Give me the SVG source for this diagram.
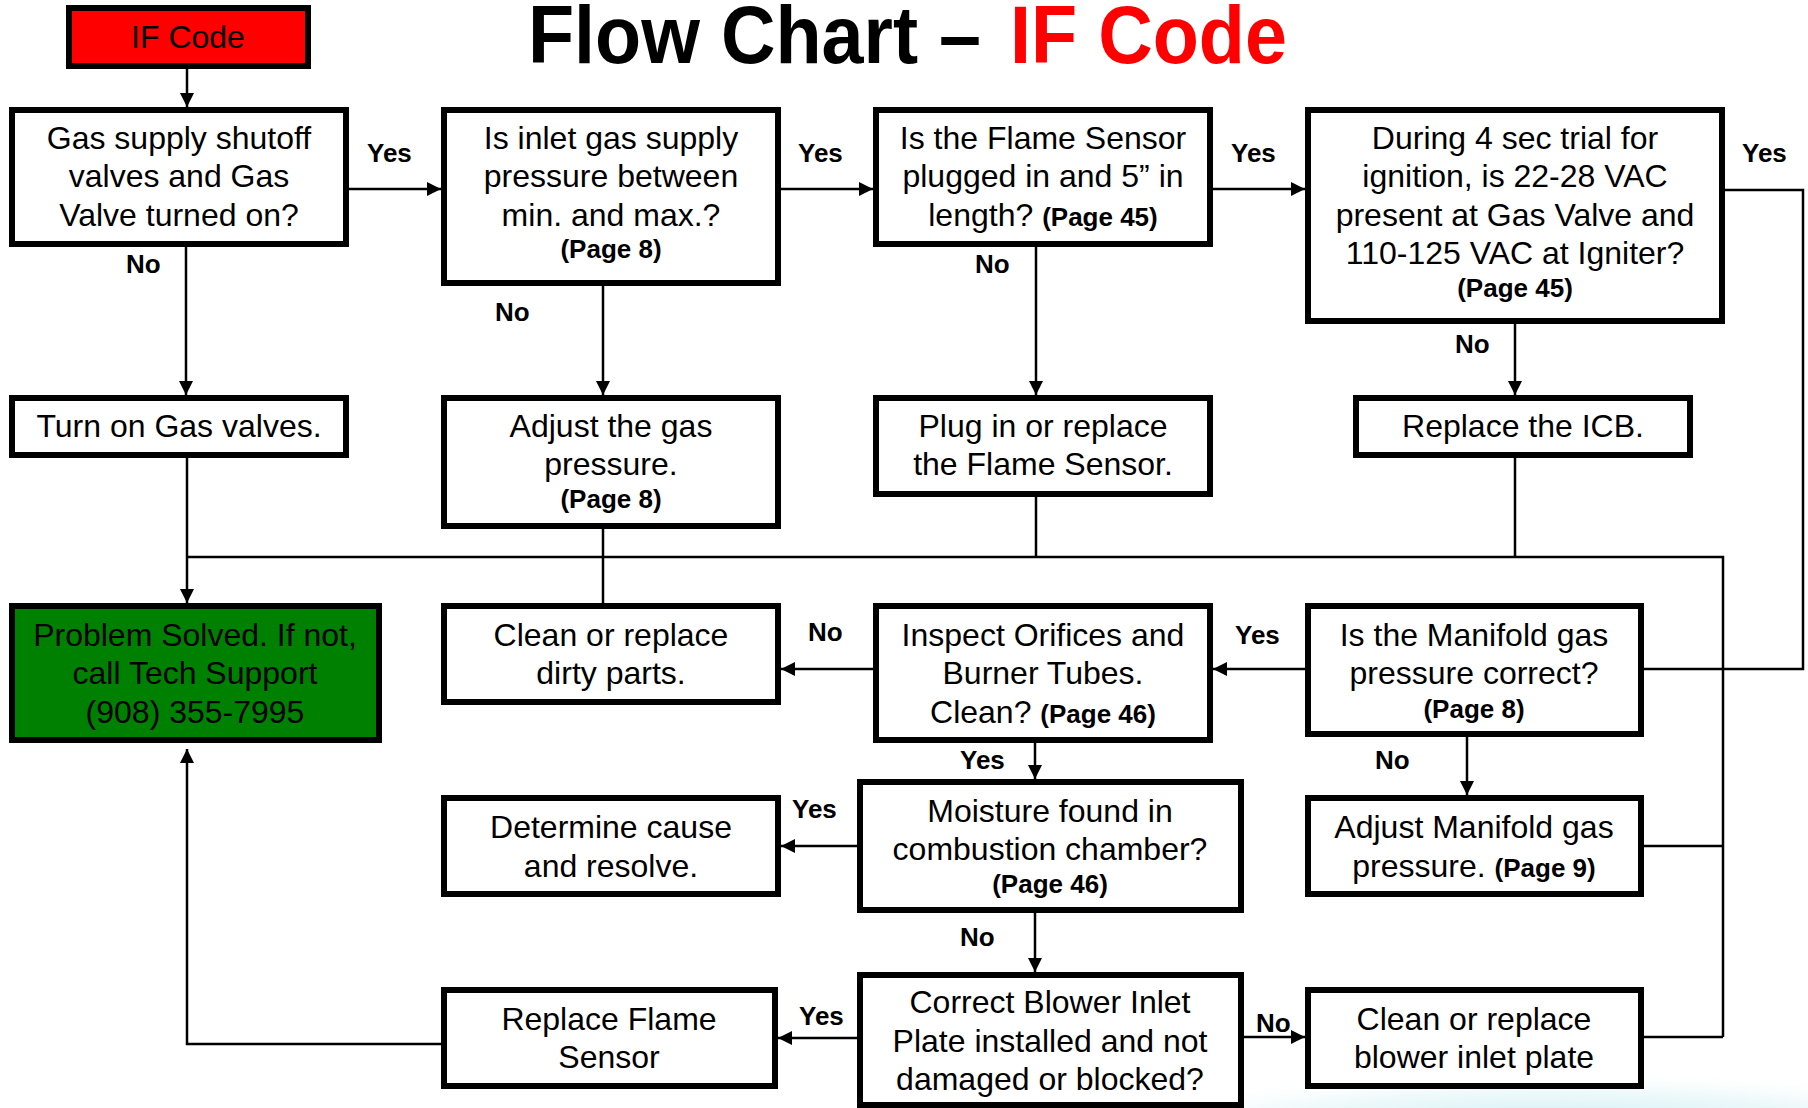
<svg xmlns="http://www.w3.org/2000/svg" width="1808" height="1108" viewBox="0 0 1808 1108">
<defs>
<marker id="arr" markerUnits="userSpaceOnUse" markerWidth="14" markerHeight="14" refX="14" refY="7" orient="auto">
<path d="M0,0 L14,7 L0,14 z" fill="#000"/>
</marker>
<radialGradient id="glow" cx="0.5" cy="0.5" r="0.5">
<stop offset="0" stop-color="#c6ebf1" stop-opacity="0.9"/>
<stop offset="0.6" stop-color="#e2f5f8" stop-opacity="0.6"/>
<stop offset="1" stop-color="#ffffff" stop-opacity="0"/>
</radialGradient>
<style>
.box{fill:#fff;stroke:#000;stroke-width:6}
.t{font-family:"Liberation Sans",Arial,sans-serif;font-size:32px;fill:#000;text-anchor:middle}
.b{font-family:"Liberation Sans",Arial,sans-serif;font-size:26px;font-weight:bold;fill:#000}
.lbl{font-family:"Liberation Sans",Arial,sans-serif;font-size:26px;font-weight:bold;fill:#000}
.c{fill:none;stroke:#000;stroke-width:2.5}
.ca{fill:none;stroke:#000;stroke-width:2.5;marker-end:url(#arr)}
</style>
</defs>
<rect width="1808" height="1108" fill="#fff"/>
<ellipse cx="1560" cy="1125" rx="480" ry="55" fill="url(#glow)"/>

<g id="title">
<text x="528" y="63" font-family="'Liberation Sans',Arial,sans-serif" font-size="82" font-weight="bold" fill="#000" textLength="453" lengthAdjust="spacingAndGlyphs">Flow Chart –</text>
<text x="1010" y="63" font-family="'Liberation Sans',Arial,sans-serif" font-size="82" font-weight="bold" fill="#ff0000" textLength="277" lengthAdjust="spacingAndGlyphs">IF Code</text>
</g>

<g id="connectors">
<path class="ca" d="M187 69 V107"/>
<path class="ca" d="M349 189 H441"/>
<path class="ca" d="M781 189 H873"/>
<path class="ca" d="M1213 189 H1305"/>
<path class="ca" d="M186 247 V395"/>
<path class="ca" d="M603 286 V395"/>
<path class="ca" d="M1036 247 V395"/>
<path class="ca" d="M1515 324 V395"/>
<path class="c" d="M1725 190 H1803 V669 H1644"/>
<path class="ca" d="M187 458 V603"/>
<path class="c" d="M187 557 H1723 V1037"/>
<path class="c" d="M603 529 V603"/>
<path class="c" d="M1036 497 V557"/>
<path class="c" d="M1515 458 V557"/>
<path class="ca" d="M1305 669 H1213"/>
<path class="ca" d="M873 669 H781"/>
<path class="ca" d="M1467 737 V795"/>
<path class="ca" d="M1035 743 V779"/>
<path class="ca" d="M858 846 H781"/>
<path class="c" d="M1644 846 H1723"/>
<path class="ca" d="M1035 913 V972"/>
<path class="ca" d="M1244 1037 H1305"/>
<path class="c" d="M1644 1037 H1723"/>
<path class="ca" d="M858 1038 H778"/>
<path class="ca" d="M441 1044 H187 V749"/>
<text class="lbl" x="367" y="162">Yes</text>
<text class="lbl" x="798" y="162">Yes</text>
<text class="lbl" x="1231" y="162">Yes</text>
<text class="lbl" x="1742" y="162">Yes</text>
<text class="lbl" x="126" y="273">No</text>
<text class="lbl" x="495" y="321">No</text>
<text class="lbl" x="975" y="273">No</text>
<text class="lbl" x="1455" y="353">No</text>
<text class="lbl" x="808" y="641">No</text>
<text class="lbl" x="1235" y="644">Yes</text>
<text class="lbl" x="1375" y="769">No</text>
<text class="lbl" x="960" y="769">Yes</text>
<text class="lbl" x="792" y="818">Yes</text>
<text class="lbl" x="960" y="946">No</text>
<text class="lbl" x="1256" y="1032">No</text>
<text class="lbl" x="799" y="1025">Yes</text>
</g>

<g id="ifcode">
<rect x="69" y="8" width="239" height="58" fill="#ff0000" stroke="#000" stroke-width="6"/>
<text class="t" x="188" y="48">IF Code</text>
</g>

<g id="gas-supply">
<rect class="box" x="12" y="110" width="334" height="134"/>
<text class="t" x="179" y="149">Gas supply shutoff</text>
<text class="t" x="179" y="187">valves and Gas</text>
<text class="t" x="179" y="226">Valve turned on?</text>
</g>

<g id="inlet-pressure">
<rect class="box" x="444" y="110" width="334" height="173"/>
<text class="t" x="611" y="149">Is inlet gas supply</text>
<text class="t" x="611" y="187">pressure between</text>
<text class="t" x="611" y="226">min. and max.?</text>
<text class="b" x="611" y="258" text-anchor="middle">(Page 8)</text>
</g>

<g id="flame-sensor">
<rect class="box" x="876" y="110" width="334" height="134"/>
<text class="t" x="1043" y="149">Is the Flame Sensor</text>
<text class="t" x="1043" y="187">plugged in and 5” in</text>
<text class="t" x="1043" y="226">length? <tspan class="b">(Page 45)</tspan></text>
</g>

<g id="trial-ignition">
<rect class="box" x="1308" y="110" width="414" height="211"/>
<text class="t" x="1515" y="149">During 4 sec trial for</text>
<text class="t" x="1515" y="187">ignition, is 22-28 VAC</text>
<text class="t" x="1515" y="226">present at Gas Valve and</text>
<text class="t" x="1515" y="264">110-125 VAC at Igniter?</text>
<text class="b" x="1515" y="297" text-anchor="middle">(Page 45)</text>
</g>

<g id="turn-on">
<rect class="box" x="12" y="398" width="334" height="57"/>
<text class="t" x="179" y="437">Turn on Gas valves.</text>
</g>

<g id="adjust-gas">
<rect class="box" x="444" y="398" width="334" height="128"/>
<text class="t" x="611" y="437">Adjust the gas</text>
<text class="t" x="611" y="475">pressure.</text>
<text class="b" x="611" y="508" text-anchor="middle">(Page 8)</text>
</g>

<g id="plug-in">
<rect class="box" x="876" y="398" width="334" height="96"/>
<text class="t" x="1043" y="437">Plug in or replace</text>
<text class="t" x="1043" y="475">the Flame Sensor.</text>
</g>

<g id="replace-icb">
<rect class="box" x="1356" y="398" width="334" height="57"/>
<text class="t" x="1523" y="437">Replace the ICB.</text>
</g>

<g id="problem-solved">
<rect x="12" y="606" width="367" height="134" fill="#008000" stroke="#000" stroke-width="6"/>
<text class="t" x="195" y="646">Problem Solved. If not,</text>
<text class="t" x="195" y="684">call Tech Support</text>
<text class="t" x="195" y="723">(908) 355-7995</text>
</g>

<g id="clean-dirty">
<rect class="box" x="444" y="606" width="334" height="96"/>
<text class="t" x="611" y="646">Clean or replace</text>
<text class="t" x="611" y="684">dirty parts.</text>
</g>

<g id="inspect-orifices">
<rect class="box" x="876" y="606" width="334" height="134"/>
<text class="t" x="1043" y="646">Inspect Orifices and</text>
<text class="t" x="1043" y="684">Burner Tubes.</text>
<text class="t" x="1043" y="723">Clean? <tspan class="b">(Page 46)</tspan></text>
</g>

<g id="manifold-pressure">
<rect class="box" x="1308" y="606" width="333" height="128"/>
<text class="t" x="1474" y="646">Is the Manifold gas</text>
<text class="t" x="1474" y="684">pressure correct?</text>
<text class="b" x="1474" y="718" text-anchor="middle">(Page 8)</text>
</g>

<g id="determine-cause">
<rect class="box" x="444" y="798" width="334" height="96"/>
<text class="t" x="611" y="838">Determine cause</text>
<text class="t" x="611" y="877">and resolve.</text>
</g>

<g id="moisture">
<rect class="box" x="860" y="782" width="381" height="128"/>
<text class="t" x="1050" y="822">Moisture found in</text>
<text class="t" x="1050" y="860">combustion chamber?</text>
<text class="b" x="1050" y="893" text-anchor="middle">(Page 46)</text>
</g>

<g id="adjust-manifold">
<rect class="box" x="1308" y="798" width="333" height="96"/>
<text class="t" x="1474" y="838">Adjust Manifold gas</text>
<text class="t" x="1474" y="877">pressure. <tspan class="b">(Page 9)</tspan></text>
</g>

<g id="replace-flame">
<rect class="box" x="444" y="990" width="331" height="96"/>
<text class="t" x="609" y="1030">Replace Flame</text>
<text class="t" x="609" y="1068">Sensor</text>
</g>

<g id="blower-plate">
<rect class="box" x="860" y="975" width="381" height="130"/>
<text class="t" x="1050" y="1013">Correct Blower Inlet</text>
<text class="t" x="1050" y="1052">Plate installed and not</text>
<text class="t" x="1050" y="1090">damaged or blocked?</text>
</g>

<g id="clean-blower">
<rect class="box" x="1308" y="990" width="333" height="96"/>
<text class="t" x="1474" y="1030">Clean or replace</text>
<text class="t" x="1474" y="1068">blower inlet plate</text>
</g>
</svg>
